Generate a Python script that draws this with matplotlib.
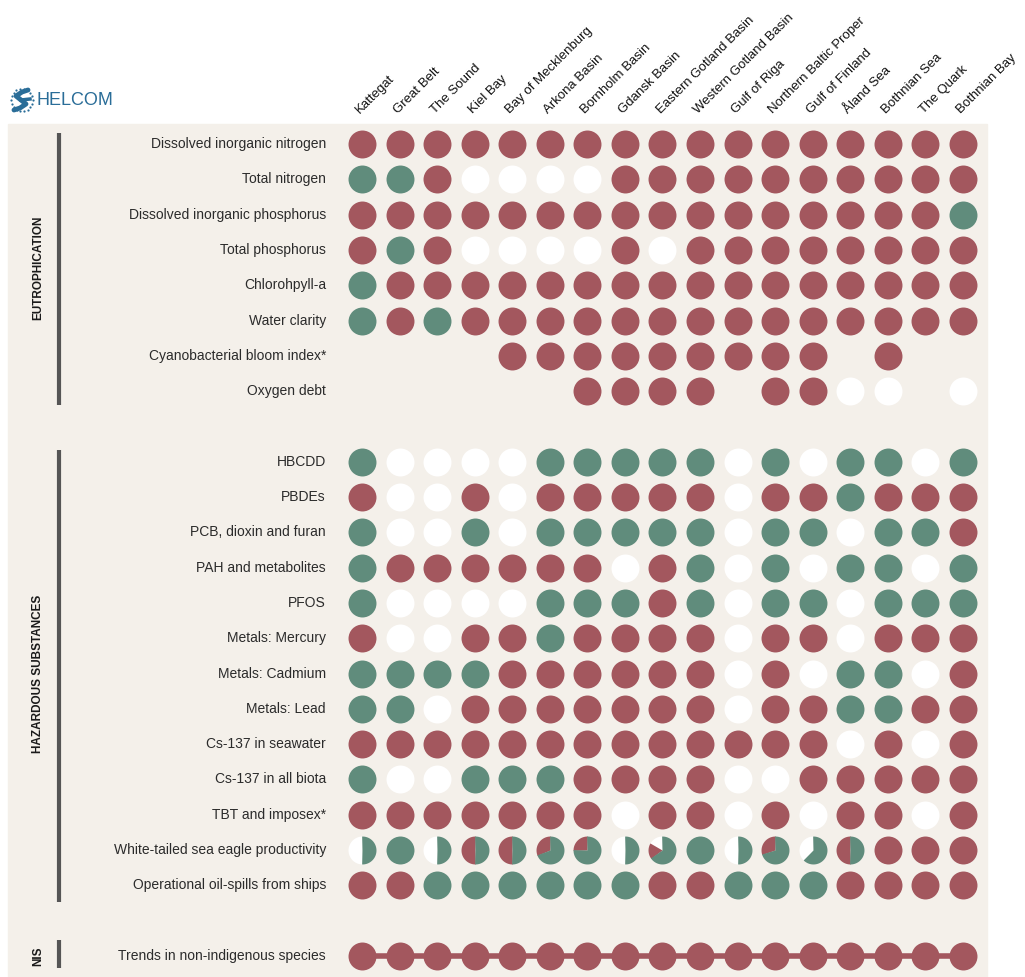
import matplotlib
matplotlib.use('Agg')
import matplotlib.pyplot as plt
import matplotlib.transforms as mtransforms
import numpy as np
from matplotlib.path import Path
from matplotlib.patches import Rectangle
from matplotlib.lines import Line2D

plt.rcParams['font.family'] = ['Liberation Sans', 'DejaVu Sans']

# --- data ---
regions = ['Kattegat', 'Great Belt', 'The Sound', 'Kiel Bay', 'Bay of Mecklenburg',
           'Arkona Basin', 'Bornholm Basin', 'Gdansk Basin', 'Eastern Gotland Basin',
           'Western Gotland Basin', 'Gulf of Riga', 'Northern Baltic Proper',
           'Gulf of Finland', 'Åland Sea', 'Bothnian Sea', 'The Quark', 'Bothnian Bay']

# R = not good, G = good, W = not assessed, - = not applicable
eutro_labels = ['Dissolved inorganic nitrogen', 'Total nitrogen',
                'Dissolved inorganic phosphorus', 'Total phosphorus',
                'Chlorohpyll-a', 'Water clarity', 'Cyanobacterial bloom index*',
                'Oxygen debt']
eutro_status = ['RRRRRRRRRRRRRRRRR',
                'GGRWWWWRRRRRRRRRR',
                'RRRRRRRRRRRRRRRRG',
                'RGRWWWWRWRRRRRRRR',
                'GRRRRRRRRRRRRRRRR',
                'GRGRRRRRRRRRRRRRR',
                '----RRRRRRRRR-R--',
                '------RRRR-RRWW-W']

haz_labels = ['HBCDD', 'PBDEs', 'PCB, dioxin and furan', 'PAH and metabolites',
              'PFOS', 'Metals: Mercury', 'Metals: Cadmium', 'Metals: Lead',
              'Cs-137 in seawater', 'Cs-137 in all biota', 'TBT and imposex*',
              'White-tailed sea eagle productivity',
              'Operational oil-spills from ships']
haz_status = ['GWWWWGGGGGWGWGGWG',
              'RWWRWRRRRRWRRGRRR',
              'GWWGWGGGGGWGGWGGR',
              'GRRRRRRWRGWGWGGWG',
              'GWWWWGGGRGWGGWGGG',
              'RWWRRGRRRRWRRWRRR',
              'GGGGRRRRRRWRWGGWR',
              'GGWRRRRRRRWRRGGRR',
              'RRRRRRRRRRRRRWRWR',
              'GWWGGGRRRRWWRRRRR',
              'RRRRRRRWRRWRWRRWR',
              None,
              'RRGGGGGGRRGGGRRRR']

# sea eagle: share of each pie (rest is green)
eagle_white = [0.5, 0, 0.5, 0, 0, 0, 0, 0.5, 0.17, 0, 0.5, 0, 0.38, 0, 0, 0, 0]
eagle_red = [0, 0, 0, 0.5, 0.5, 0.31, 0.25, 0, 0.18, 0, 0, 0.3, 0, 0.5, 1, 1, 1]

nis_labels = ['Trends in non-indigenous species']
nis_status = ['RRRRRRRRRRRRRRRRR']

RED = '#a3575e'
GREEN = '#608c7c'
WHITE = '#ffffff'
BEIGE = '#f4f0ea'
TXT = '#2b2b2b'
colors = {'R': RED, 'G': GREEN, 'W': WHITE}

W, H = 1025, 977
S = 405

fig = plt.figure(figsize=(W / 100, H / 100), dpi=100)


def fx(px):
    return px / W


def fy(py):
    return 1 - py / H


fig.patches.append(Rectangle((fx(8), 0), fx(987) - fx(8), fy(124),
                             transform=fig.transFigure, color=BEIGE, zorder=-10))

ax = fig.add_axes([fx(343.2), fy(973.6), fx(981.8) - fx(343.2), fy(126.35) - fy(973.6)])
ax.set_xlim(-0.5, 16.5)
ax.set_ylim(23.5, -0.5)
ax.axis('off')

eutro_y = list(range(8))
haz_y = list(range(9, 22))
nis_y = [23]

ax.plot(range(len(regions)), [nis_y[0]] * len(regions), color=RED, lw=4, zorder=2)


def dots(statuses, ys):
    for row, y in zip(statuses, ys):
        if row is None:
            continue
        for code, col in colors.items():
            xs = [i for i, c in enumerate(row) if c == code]
            if xs:
                ax.scatter(xs, [y] * len(xs), s=S, color=col, marker='o',
                           linewidths=0, zorder=3)


def sector(f0, f1):
    # pie sector from share f0 to f1, counter-clockwise from 12 o'clock
    t = np.linspace(np.pi / 2 + 2 * np.pi * f0, np.pi / 2 + 2 * np.pi * f1, 90)
    arc = np.column_stack([np.cos(t), np.sin(t)])
    # the hidden first point keeps the marker scale the same for every sector
    verts = np.vstack([[1, 1], [0, 0], arc, [0, 0]])
    codes = [Path.MOVETO, Path.MOVETO] + [Path.LINETO] * len(arc) + [Path.CLOSEPOLY]
    return Path(verts, codes)


dots(eutro_status, eutro_y)
dots(haz_status, haz_y)
dots(nis_status, nis_y)

# pies for the sea eagle row
ey = haz_y[11]
pad = 0.004
for i, (w, r) in enumerate(zip(eagle_white, eagle_red)):
    parts = [(WHITE, w), (RED, r), (GREEN, 1 - w - r)]
    parts = [(c, f) for c, f in parts if f > 0.001]
    if len(parts) == 1:
        ax.scatter([i], [ey], s=S, color=parts[0][0], marker='o', linewidths=0, zorder=3)
        continue
    start = 0
    for k, (c, f) in enumerate(parts):
        ax.scatter([i], [ey], s=S, color=c, marker=sector(start - pad, start + f + pad),
                   linewidths=0, zorder=3 + k)
        start += f

# row labels
tr_rows = mtransforms.blended_transform_factory(fig.transFigure, ax.transData)
for labels, ys in [(eutro_labels, eutro_y), (haz_labels, haz_y), (nis_labels, nis_y)]:
    for lab, y in zip(labels, ys):
        ax.text(fx(326), y, lab, transform=tr_rows, ha='right', va='center',
                fontsize=10, color=TXT)

# column labels
tr_cols = mtransforms.blended_transform_factory(ax.transData, fig.transFigure)
for i, reg in enumerate(regions):
    ax.text(i - 0.05, fy(114), reg, transform=tr_cols, rotation=45,
            rotation_mode='anchor', ha='left', va='baseline', fontsize=9.5,
            color='#111111', clip_on=False)

# group labels and bars
groups = [('EUTROPHICATION', -0.31, 7.39, np.mean(eutro_y)),
          ('HAZARDOUS SUBSTANCES', 8.67, 21.47, np.mean(haz_y)),
          ('NIS', 22.55, 23.35, nis_y[0])]
for name, y0, y1, yc in groups:
    ax.add_line(Line2D([fx(59), fx(59)], [y0, y1], transform=tr_rows, color='#555555',
                       lw=3, solid_capstyle='butt', clip_on=False))
    ax.text(fx(38), yc, name, transform=tr_rows, rotation=90, ha='center', va='center',
            fontsize=8.5, fontweight='bold', color='#1a1a1a')

# logo
fig.text(fx(37), fy(100), 'HELCOM', fontsize=13, color='#2a6d98',
         family=['Liberation Sans Narrow', 'Liberation Sans', 'DejaVu Sans'],
         ha='left', va='center')
ang = np.linspace(0, 2 * np.pi, 18, endpoint=False)
fig.add_artist(Line2D(fx(22 + 11 * np.cos(ang)), fy(100 + 11 * np.sin(ang)),
                      ls='none', marker='o', ms=1.6, color='#2a6d98', mew=0))
fig.add_artist(Line2D(fx(np.array([28, 22, 16, 21, 26, 20, 14])),
                      fy(np.array([90, 92, 96, 100, 104, 108, 110])),
                      color='#2a6d98', lw=3.5, solid_capstyle='round'))
fig.add_artist(Line2D(fx(np.array([21, 30])), fy(np.array([100, 99])),
                      color='#2a6d98', lw=2.5))

fig.savefig('out.png', dpi=100, facecolor='white')
